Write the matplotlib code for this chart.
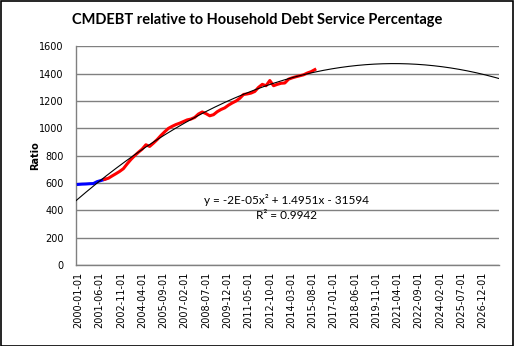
import numpy as np
import matplotlib.pyplot as plt
from matplotlib.patches import Rectangle

plt.rcParams['font.family'] = ['DejaVu Sans']

# blue series: quarterly, 2000-01 .. 2001-10
blue_start = '2000-01'
blue_vals = [590, 592, 593, 595, 596, 610, 618, 627]

# red series: quarterly, 2001-10 .. 2015-10
red_start = '2001-10'
red_vals = [627, 635, 652, 668, 685, 705, 740, 772, 800, 825, 848,
            880, 868, 892, 918, 948, 975, 1000, 1015, 1028, 1038, 1050,
            1062, 1068, 1080, 1105, 1120, 1108, 1092, 1100, 1122, 1138,
            1150, 1170, 1186, 1200, 1220, 1248, 1252, 1258, 1270, 1300,
            1322, 1312, 1350, 1312, 1322, 1330, 1332, 1360, 1370, 1378,
            1385, 1392, 1405, 1415, 1430]

# points (month index, value)
trend_months = [-1.8, 16.8, 97, 201, 228, 252, 273, 313, 335]
trend_vals = [473, 609, 1104, 1432, 1463, 1475, 1468, 1410, 1373]

tick_labels = ['2000-01-01', '2001-06-01', '2002-11-01', '2004-04-01',
               '2005-09-01', '2007-02-01', '2008-07-01', '2009-12-01',
               '2011-05-01', '2012-10-01', '2014-03-01', '2015-08-01',
               '2017-01-01', '2018-06-01', '2019-11-01', '2021-04-01',
               '2022-09-01', '2024-02-01', '2025-07-01', '2026-12-01']


def month_idx(s):
    y, m = s.split('-')[:2]
    return (int(y) - 2000) * 12 + int(m) - 1


blue_x = month_idx(blue_start) + 3 * np.arange(len(blue_vals))
red_x = month_idx(red_start) + 3 * np.arange(len(red_vals))
tick_x = [month_idx(t) for t in tick_labels]

x_lo, x_hi = -1.8, 335.8

fig = plt.figure(figsize=(5.14, 3.46), dpi=100)
fig.patch.set_facecolor('white')
fig.patches.append(Rectangle((0.001, 0.001), 0.997, 0.997, transform=fig.transFigure,
                             fill=False, edgecolor='black', linewidth=1.2))
ax = fig.add_axes([0.148, 0.234, 0.822, 0.632])

ax.set_xlim(x_lo, x_hi)
ax.set_ylim(0, 1600)
ax.set_yticks(range(0, 1601, 200))
ax.grid(axis='y', color='#808080', linewidth=1.0)
ax.set_axisbelow(True)
for s in ['top', 'right']:
    ax.spines[s].set_visible(False)
for s in ['left', 'bottom']:
    ax.spines[s].set_color('#808080')
    ax.spines[s].set_linewidth(1.0)

# quadratic trend through the read points, drawn across the whole axis
coef = np.polyfit(trend_months, trend_vals, 2)
tx = np.linspace(x_lo, x_hi, 300)
ax.plot(blue_x, blue_vals, color='#0000FF', lw=2.2, zorder=3)
ax.plot(red_x, red_vals, color='#FF0000', lw=2.2, zorder=3)
ax.plot(tx, np.polyval(coef, tx), color='black', lw=0.8, zorder=4)

ax.set_xticks(tick_x)
ax.set_xticklabels(tick_labels, rotation=90, fontsize=7)
ax.tick_params(axis='both', length=0, labelsize=7, pad=9)
ax.tick_params(axis='x', pad=5)

ax.set_ylabel('Ratio', fontsize=7, fontweight='bold')
ax.yaxis.set_label_coords(-0.085, 0.5)

fig.text(0.5, 0.942, 'CMDEBT relative to Household Debt Service Percentage',
         ha='center', va='center', fontsize=10.5, fontweight='bold', family='Lato')
fig.text(0.558, 0.422, 'y = -2E-05x² + 1.4951x - 31594',
         ha='center', va='center', fontsize=8.5, family='Lato')
fig.text(0.558, 0.378, 'R² = 0.9942',
         ha='center', va='center', fontsize=8.5, family='Lato')

fig.savefig('out.png', dpi=100, facecolor='white')
